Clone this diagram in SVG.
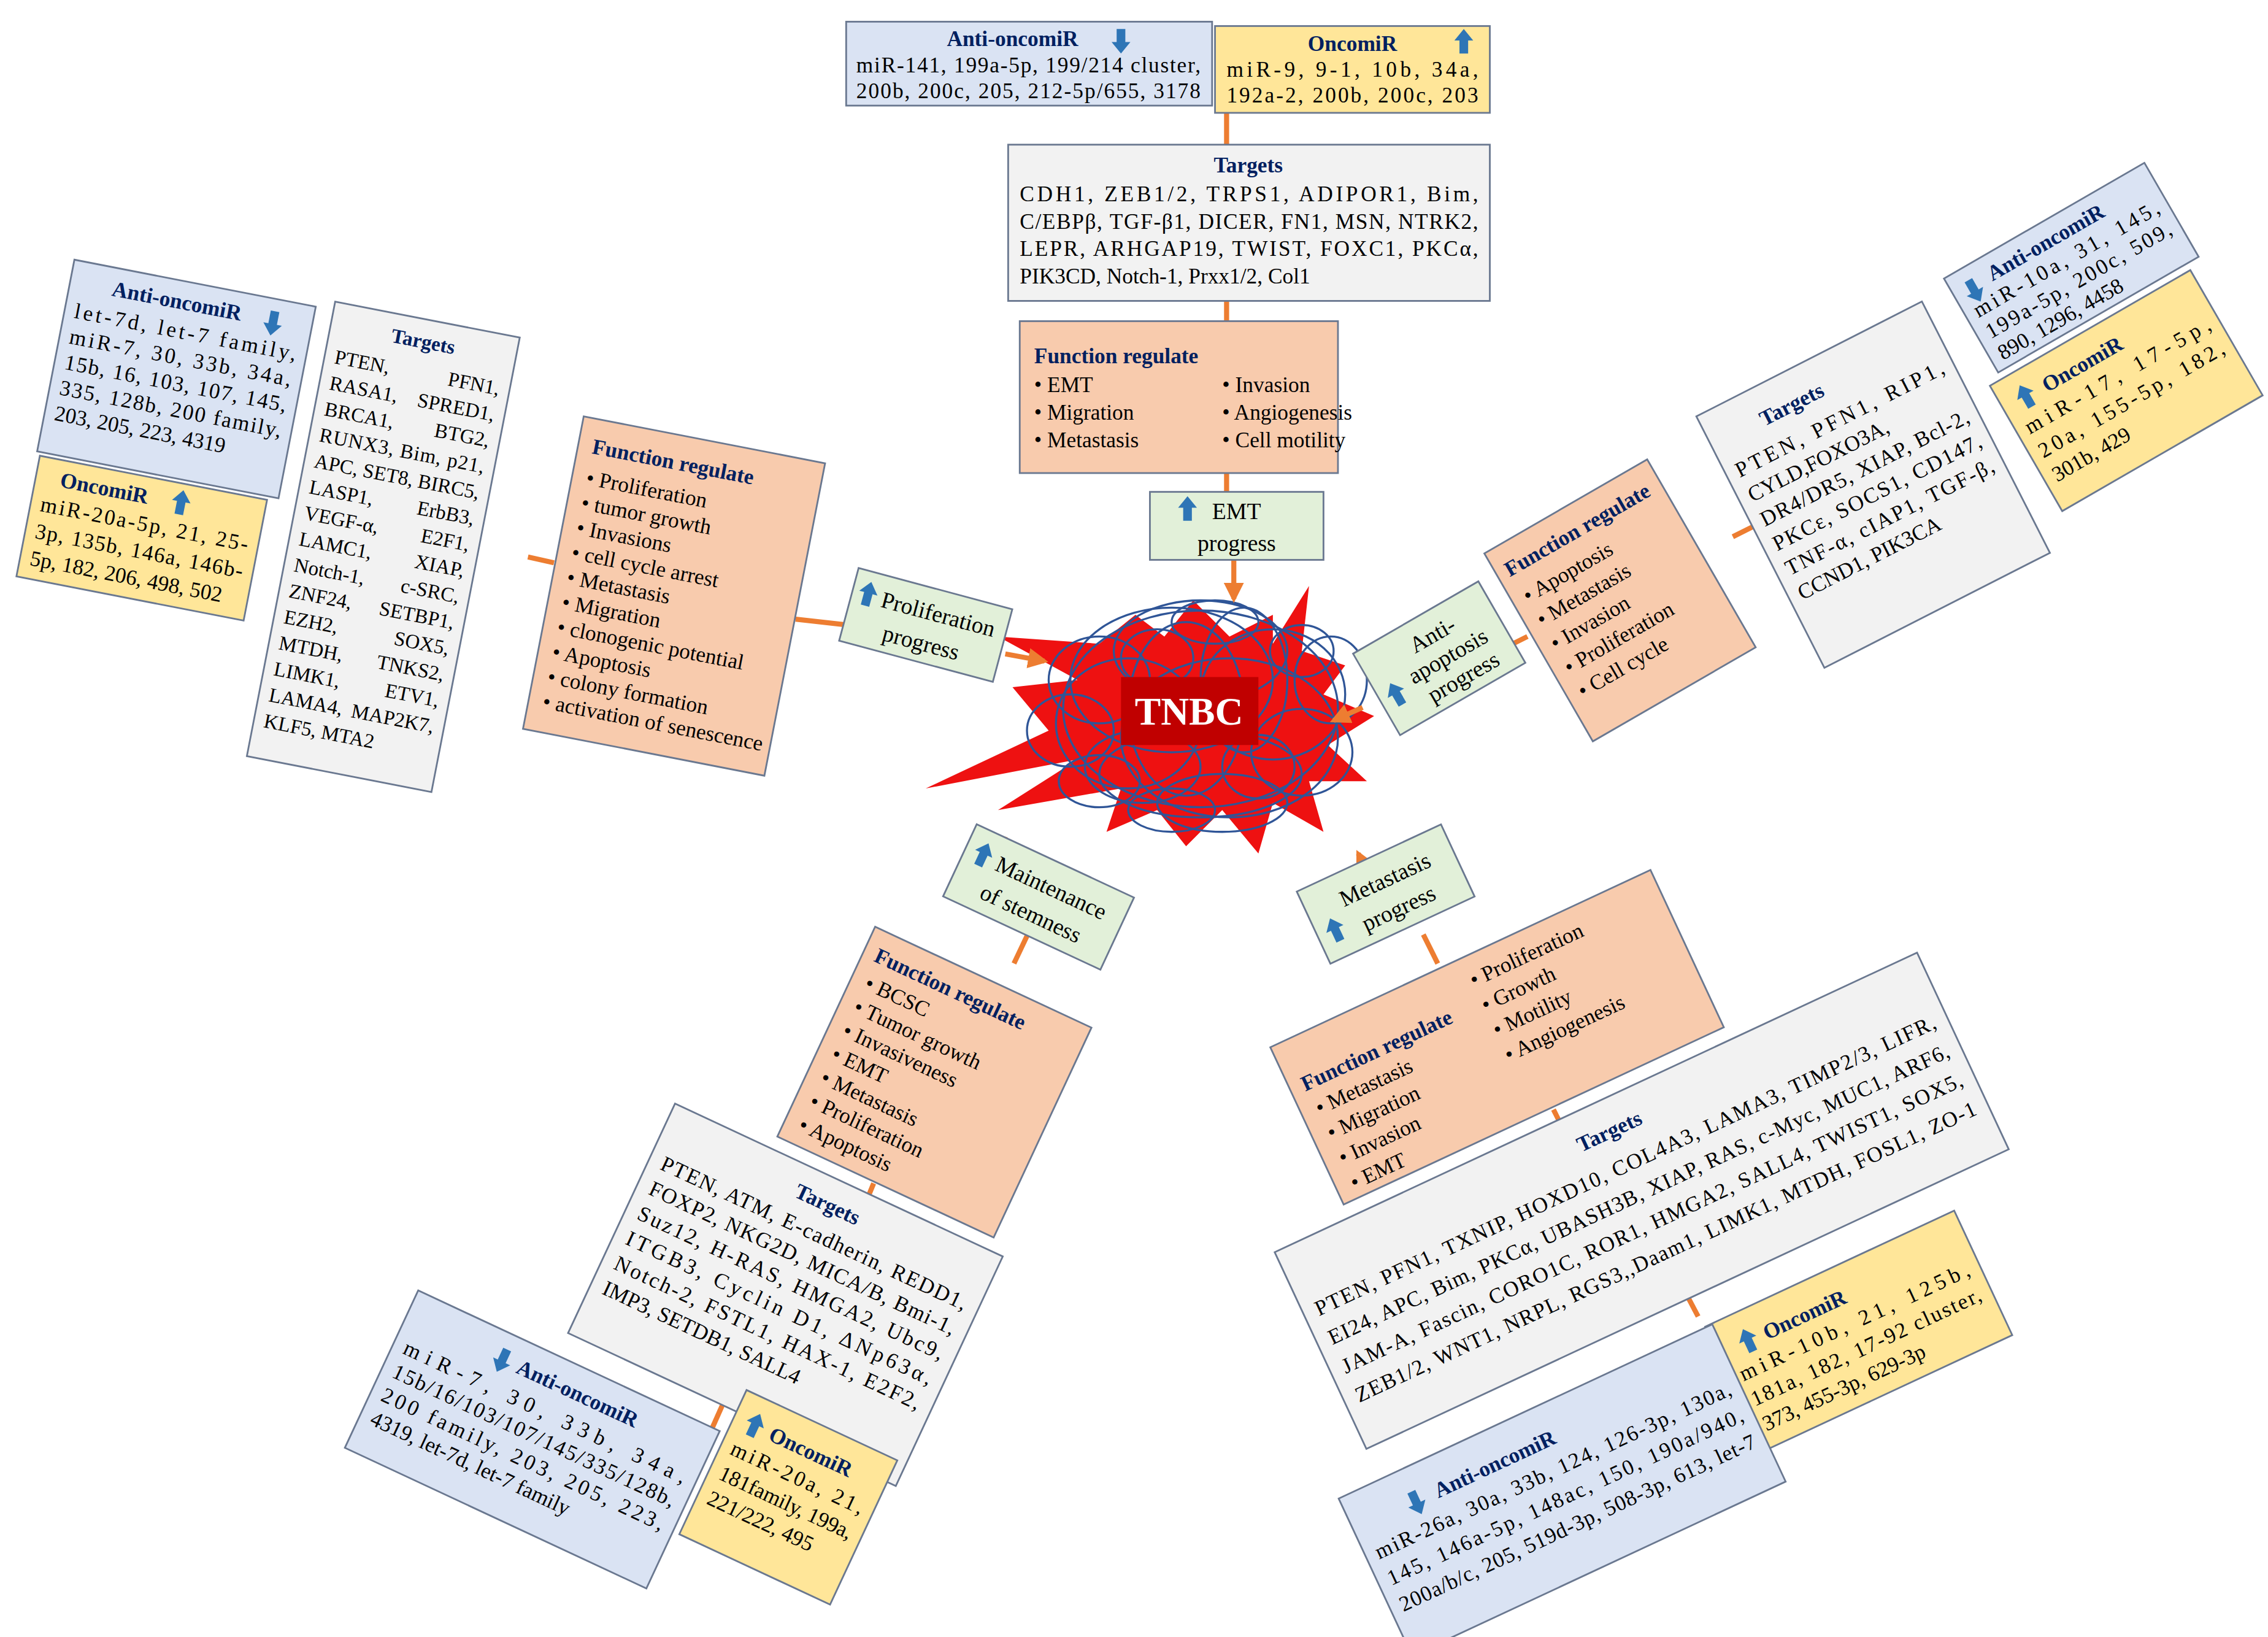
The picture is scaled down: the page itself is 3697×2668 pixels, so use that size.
<svg xmlns="http://www.w3.org/2000/svg" width="3697" height="2668" viewBox="0 0 3697 2668">
<style>
.b{stroke:#6a7890;stroke-width:1.2}
.anti{fill:#dae3f3}.onco{fill:#ffe699}.tgt{fill:#f2f2f2}.fn{fill:#f8cbad}.gr{fill:#e2f0d9}
text{font-family:"Liberation Serif","Times New Roman",serif;font-size:15px;fill:#000}
.h{font-weight:bold;fill:#002060}
.m{text-anchor:middle}.e{text-anchor:end}
.g{font-size:16px}
.sm text{font-size:14px}
.c{stroke:#ed7d31;stroke-width:3.5;fill:none}
.s{fill:none;stroke:#2f5597;stroke-width:1.4}
</style>
<defs>
<path id="up" d="M-3,7 V-2 H-6.5 L0,-10 L6.5,-2 H3 V7 Z" fill="#2e75b6"/>
<path id="dn" d="M-3,-7 V2 H-6.5 L0,10 L6.5,2 H3 V-7 Z" fill="#2e75b6"/>
<marker id="ar" viewBox="0 0 10 10" refX="8" refY="5" markerWidth="4" markerHeight="4" orient="auto"><path d="M0,0 L10,5 L0,10 Z" fill="#ed7d31"/></marker>
</defs>
<rect width="3697" height="2668" fill="#fff"/>
<g transform="scale(2.3578)">
<g id="tnbc">
<polygon fill="#ee1111" points="690,440 760,445 785,425 805,440 825,415 850,440 880,425 880,445 905,405 900,450 930,460 915,480 950,495 918,515 945,540 905,540 915,575 880,555 870,590 845,560 820,585 800,560 765,575 775,545 690,560 745,525 640,545 725,505 700,475 745,470"/>
<g class="s">
<ellipse cx="830" cy="490" rx="95" ry="68"/><ellipse cx="810" cy="470" rx="70" ry="50"/><ellipse cx="850" cy="510" rx="75" ry="55"/>
<ellipse cx="780" cy="500" rx="50" ry="45"/><ellipse cx="880" cy="480" rx="50" ry="45"/><ellipse cx="830" cy="450" rx="60" ry="35"/>
<ellipse cx="830" cy="535" rx="70" ry="30"/><ellipse cx="760" cy="470" rx="35" ry="30"/><ellipse cx="900" cy="520" rx="35" ry="30"/>
<ellipse cx="820" cy="490" rx="40" ry="60"/><ellipse cx="860" cy="470" rx="30" ry="50"/><ellipse cx="790" cy="530" rx="40" ry="25"/>
<ellipse cx="740" cy="505" rx="30" ry="25"/><ellipse cx="920" cy="470" rx="25" ry="30"/><ellipse cx="845" cy="555" rx="45" ry="20"/>
<ellipse cx="800" cy="455" rx="25" ry="20"/><ellipse cx="870" cy="530" rx="25" ry="22"/><ellipse cx="760" cy="540" rx="28" ry="18"/>
<ellipse cx="900" cy="450" rx="22" ry="18"/><ellipse cx="840" cy="430" rx="30" ry="15"/><ellipse cx="810" cy="560" rx="30" ry="15"/>
</g>
<rect x="775" y="468" width="95" height="47" fill="#c00000"/>
<text x="822" y="501" class="m" style="font-size:27px;font-weight:bold;fill:#fff">TNBC</text>
</g>
<g id="connectors">
<line class="c" x1="848" y1="78" x2="848" y2="100"/><line class="c" x1="848" y1="208" x2="848" y2="222"/><line class="c" x1="848" y1="327" x2="848" y2="340"/>
<line class="c" x1="853" y1="387" x2="853" y2="414" marker-end="url(#ar)"/>
<line class="c" x1="365" y1="385" x2="383" y2="389"/><line class="c" x1="550" y1="428" x2="586" y2="432"/>
<line class="c" x1="695" y1="452" x2="722" y2="457" marker-end="url(#ar)"/>
<line class="c" x1="1388" y1="284" x2="1410" y2="273"/><line class="c" x1="1198" y1="371" x2="1214" y2="363"/><line class="c" x1="1038" y1="449" x2="1056" y2="440"/>
<line class="c" x1="942" y1="489" x2="922" y2="498" marker-end="url(#ar)"/>
<line class="c" x1="706" y1="598" x2="684" y2="576" marker-end="url(#ar)"/>
<line class="c" x1="710" y1="647" x2="701" y2="666"/><line class="c" x1="604" y1="818" x2="597" y2="835"/><line class="c" x1="500" y1="970" x2="492" y2="988"/>
<line class="c" x1="948" y1="608" x2="939" y2="590" marker-end="url(#ar)"/>
<line class="c" x1="984" y1="646" x2="994" y2="666"/><line class="c" x1="1074" y1="767" x2="1085" y2="789"/><line class="c" x1="1164" y1="891" x2="1174" y2="910"/>
</g>
<g id="t-anti"><rect class="b anti" x="585" y="15" width="253" height="58"/>
<text x="700" y="32" class="h m">Anti-oncomiR</text><use href="#dn" x="775" y="27"/>
<text x="592" y="50" textLength="238" lengthAdjust="spacing">miR-141, 199a-5p, 199/214 cluster,</text>
<text x="592" y="68" textLength="238" lengthAdjust="spacing">200b, 200c, 205, 212-5p/655, 3178</text></g>
<g id="t-onco"><rect class="b onco" x="840" y="18" width="190" height="60"/>
<text x="935" y="35" class="h m">OncomiR</text><use href="#up" x="1012" y="30"/>
<text x="848" y="53" textLength="174" lengthAdjust="spacing">miR-9, 9-1, 10b, 34a,</text>
<text x="848" y="71" textLength="174" lengthAdjust="spacing">192a-2, 200b, 200c, 203</text></g>
<g id="t-tgt"><rect class="b tgt" x="697" y="100" width="333" height="108"/>
<text x="863" y="119" class="h m">Targets</text>
<text x="705" y="139" textLength="317" lengthAdjust="spacing">CDH1, ZEB1/2, TRPS1, ADIPOR1, Bim,</text>
<text x="705" y="158" textLength="317" lengthAdjust="spacing">C/EBPβ, TGF-β1, DICER, FN1, MSN, NTRK2,</text>
<text x="705" y="177" textLength="317" lengthAdjust="spacing">LEPR, ARHGAP19, TWIST, FOXC1, PKCα,</text>
<text x="705" y="196">PIK3CD, Notch-1, Prxx1/2, Col1</text></g>
<g id="t-fn"><rect class="b fn" x="705" y="222" width="220" height="105"/>
<text x="715" y="251" class="h">Function regulate</text>
<text x="715" y="271">• EMT</text><text x="715" y="290">• Migration</text><text x="715" y="309">• Metastasis</text>
<text x="845" y="271">• Invasion</text><text x="845" y="290">• Angiogenesis</text><text x="845" y="309">• Cell motility</text></g>
<g id="t-green"><rect class="b gr" x="795" y="340" width="120" height="47"/>
<use href="#up" x="821" y="353"/><text x="838" y="359" class="g">EMT</text><text x="855" y="381" class="g m">progress</text></g>
<g id="l-anti" transform="translate(122,262) rotate(11)"><rect class="b anti" x="-85" y="-67.5" width="170" height="135"/>
<text x="-10" y="-48" class="h m">Anti-oncomiR</text><use href="#dn" x="58" y="-52"/>
<text x="-78" y="-28" textLength="156" lengthAdjust="spacing">let-7d, let-7 family,</text>
<text x="-78" y="-10" textLength="156" lengthAdjust="spacing">miR-7, 30, 33b, 34a,</text>
<text x="-78" y="8" textLength="156" lengthAdjust="spacing">15b, 16, 103, 107, 145,</text>
<text x="-78" y="26" textLength="156" lengthAdjust="spacing">335, 128b, 200 family,</text>
<text x="-78" y="44">203, 205, 223, 4319</text></g>
<g id="l-onco" transform="translate(98,372) rotate(11)"><rect class="b onco" x="-80" y="-42.5" width="160" height="85"/>
<text x="-32" y="-24" class="h m">OncomiR</text><use href="#up" x="22" y="-28"/>
<text x="-73" y="-5" textLength="146" lengthAdjust="spacing">miR-20a-5p, 21, 25-</text>
<text x="-73" y="14" textLength="146" lengthAdjust="spacing">3p, 135b, 146a, 146b-</text>
<text x="-73" y="33">5p, 182, 206, 498, 502</text></g>
<g id="l-tgt" class="sm" transform="translate(265,378) rotate(11)"><rect class="b tgt" x="-65" y="-160" width="130" height="320"/>
<text x="0" y="-140" class="h m">Targets</text>
<g transform="translate(0,-118)">
<text x="-58" y="0">PTEN,</text><text x="58" y="0" class="e">PFN1,</text>
<text x="-58" y="18.3">RASA1,</text><text x="58" y="18.3" class="e">SPRED1,</text>
<text x="-58" y="36.6">BRCA1,</text><text x="58" y="36.6" class="e">BTG2,</text>
<text x="-58" y="54.9" textLength="116" lengthAdjust="spacing">RUNX3, Bim, p21,</text>
<text x="-58" y="73.2" textLength="116" lengthAdjust="spacing">APC, SET8, BIRC5,</text>
<text x="-58" y="91.5">LASP1,</text><text x="58" y="91.5" class="e">ErbB3,</text>
<text x="-58" y="109.8">VEGF-α,</text><text x="58" y="109.8" class="e">E2F1,</text>
<text x="-58" y="128.1">LAMC1,</text><text x="58" y="128.1" class="e">XIAP,</text>
<text x="-58" y="146.4">Notch-1,</text><text x="58" y="146.4" class="e">c-SRC,</text>
<text x="-58" y="164.7">ZNF24,</text><text x="58" y="164.7" class="e">SETBP1,</text>
<text x="-58" y="183">EZH2,</text><text x="58" y="183" class="e">SOX5,</text>
<text x="-58" y="201.3">MTDH,</text><text x="58" y="201.3" class="e">TNKS2,</text>
<text x="-58" y="219.6">LIMK1,</text><text x="58" y="219.6" class="e">ETV1,</text>
<text x="-58" y="237.9">LAMA4,</text><text x="58" y="237.9" class="e">MAP2K7,</text>
<text x="-58" y="256.2">KLF5, MTA2</text></g></g>
<g id="l-fn" transform="translate(466,412) rotate(11)"><rect class="b fn" x="-85" y="-110" width="170" height="220"/>
<text x="-75" y="-86" class="h">Function regulate</text>
<text x="-75" y="-64">• Proliferation</text><text x="-75" y="-46.5">• tumor growth</text><text x="-75" y="-29">• Invasions</text>
<text x="-75" y="-11.5">• cell cycle arrest</text><text x="-75" y="6">• Metastasis</text><text x="-75" y="23.5">• Migration</text>
<text x="-75" y="41">• clonogenic potential</text><text x="-75" y="58.5">• Apoptosis</text><text x="-75" y="76">• colony formation</text>
<text x="-75" y="93.5">• activation of senescence</text></g>
<g id="l-green" transform="translate(640,432) rotate(15)"><rect class="b gr" x="-55" y="-26" width="110" height="52"/>
<use href="#up" x="-44" y="-9"/><text x="-34" y="-4" class="g">Proliferation</text><text x="0" y="18" class="g m">progress</text></g>
<g id="r-anti" transform="translate(1432,185) rotate(-30)"><rect class="b anti" x="-80" y="-37.5" width="160" height="75"/>
<use href="#dn" x="-66" y="-21"/><text x="-52" y="-19" class="h">Anti-oncomiR</text>
<text x="-73" y="-2" textLength="146" lengthAdjust="spacing">miR-10a, 31, 145,</text>
<text x="-73" y="15" textLength="146" lengthAdjust="spacing">199a-5p, 200c, 509,</text>
<text x="-73" y="32">890, 1296, 4458</text></g>
<g id="r-onco" transform="translate(1470,270) rotate(-30)"><rect class="b onco" x="-80" y="-50" width="160" height="100"/>
<use href="#up" x="-62" y="-30"/><text x="-48" y="-26" class="h">OncomiR</text>
<text x="-73" y="-7" textLength="146" lengthAdjust="spacing">miR-17, 17-5p,</text>
<text x="-73" y="12" textLength="146" lengthAdjust="spacing">20a, 155-5p, 182,</text>
<text x="-73" y="31">301b, 429</text></g>
<g id="r-tgt" transform="translate(1295,335) rotate(-27)"><rect class="b tgt" x="-87.5" y="-97.5" width="175" height="195"/>
<text x="-25" y="-70" class="h m">Targets</text>
<text x="-80" y="-46" textLength="160" lengthAdjust="spacing">PTEN, PFN1, RIP1,</text>
<text x="-80" y="-27">CYLD,FOXO3A,</text>
<text x="-80" y="-8" textLength="160" lengthAdjust="spacing">DR4/DR5, XIAP, Bcl-2,</text>
<text x="-80" y="11" textLength="160" lengthAdjust="spacing">PKCε, SOCS1, CD147,</text>
<text x="-80" y="30" textLength="160" lengthAdjust="spacing">TNF-α, cIAP1, TGF-β,</text>
<text x="-80" y="49">CCND1, PIK3CA</text></g>
<g id="r-fn" transform="translate(1120,415) rotate(-30)"><rect class="b fn" x="-65" y="-75" width="130" height="150"/>
<text x="-58" y="-52" class="h">Function regulate</text>
<text x="-56" y="-30">• Apoptosis</text><text x="-56" y="-11">• Metastasis</text><text x="-56" y="8">• Invasion</text>
<text x="-56" y="27">• Proliferation</text><text x="-56" y="46">• Cell cycle</text></g>
<g id="r-green" transform="translate(995,455) rotate(-30)"><rect class="b gr" x="-50" y="-32.5" width="100" height="65"/>
<use href="#up" x="-38" y="8"/><text x="4" y="-11" class="g m">Anti-</text><text x="6" y="7" class="g m">apoptosis</text><text x="8" y="25" class="g m">progress</text></g>
<g id="bl-green" transform="translate(718,620) rotate(25)"><rect class="b gr" x="-60" y="-27.5" width="120" height="55"/>
<use href="#up" x="-47" y="-9"/><text x="-36" y="-4" class="g">Maintenance</text><text x="0" y="18" class="g m">of stemness</text></g>
<g id="bl-fn" transform="translate(646,748) rotate(25)"><rect class="b fn" x="-82.5" y="-80" width="165" height="160"/>
<text x="-74" y="-58" class="h">Function regulate</text>
<text x="-72" y="-38">• BCSC</text><text x="-72" y="-20">• Tumor growth</text><text x="-72" y="-2">• Invasiveness</text>
<text x="-72" y="16">• EMT</text><text x="-72" y="34">• Metastasis</text><text x="-72" y="52">• Proliferation</text><text x="-72" y="70">• Apoptosis</text></g>
<g id="bl-tgt" transform="translate(543,895) rotate(25)"><rect class="b tgt" x="-125" y="-87.5" width="250" height="175"/>
<text x="0" y="-64" class="h m">Targets</text>
<text x="-116" y="-42" textLength="232" lengthAdjust="spacing">PTEN, ATM, E-cadherin, REDD1,</text>
<text x="-116" y="-23" textLength="232" lengthAdjust="spacing">FOXP2, NKG2D, MICA/B, Bmi-1,</text>
<text x="-116" y="-4" textLength="232" lengthAdjust="spacing">Suz12, H-RAS, HMGA2, Ubc9,</text>
<text x="-116" y="15" textLength="232" lengthAdjust="spacing">ITGB3, Cyclin D1, ΔNp63α,</text>
<text x="-116" y="34" textLength="232" lengthAdjust="spacing">Notch-2, FSTL1, HAX-1, E2F2,</text>
<text x="-116" y="53">IMP3, SETDB1, SALL4</text></g>
<g id="bl-anti" transform="translate(368,995) rotate(25)"><rect class="b anti" x="-115" y="-60" width="230" height="120"/>
<use href="#dn" x="-42" y="-42"/><text x="15" y="-37" class="h m">Anti-oncomiR</text>
<text x="-107" y="-16" textLength="214" lengthAdjust="spacing">miR-7, 30, 33b, 34a,</text>
<text x="-107" y="2" textLength="214" lengthAdjust="spacing">15b/16/103/107/145/335/128b,</text>
<text x="-107" y="20" textLength="214" lengthAdjust="spacing">200 family, 203, 205, 223,</text>
<text x="-107" y="38">4319, let-7d, let-7 family</text></g>
<g id="bl-onco" transform="translate(545,1035) rotate(25)"><rect class="b onco" x="-57.5" y="-55" width="115" height="110"/>
<use href="#up" x="-42" y="-34"/><text x="-30" y="-30" class="h">OncomiR</text>
<text x="-50" y="-10" textLength="100" lengthAdjust="spacing">miR-20a, 21,</text>
<text x="-50" y="9" textLength="100" lengthAdjust="spacing">181family, 199a,</text>
<text x="-50" y="28">221/222, 495</text></g>
<g id="br-green" transform="translate(958,618) rotate(-25)"><rect class="b gr" x="-55" y="-27.5" width="110" height="55"/>
<use href="#up" x="-42" y="9"/><text x="-30" y="-4" class="g">Metastasis</text><text x="4" y="18" class="g m">progress</text></g>
<g id="br-fn" transform="translate(1035,717) rotate(-25)"><rect class="b fn" x="-145" y="-60" width="290" height="120"/>
<text x="-136" y="-22" class="h">Function regulate</text>
<text x="-134" y="-3">• Metastasis</text><text x="-134" y="16">• Migration</text><text x="-134" y="35">• Invasion</text><text x="-134" y="54">• EMT</text>
<text x="0" y="-38">• Proliferation</text><text x="0" y="-19">• Growth</text><text x="0" y="0">• Motility</text><text x="0" y="19">• Angiogenesis</text></g>
<g id="br-tgt" transform="translate(1135,830) rotate(-25)"><rect class="b tgt" x="-245" y="-75" width="490" height="150"/>
<text x="0" y="-48" class="h m">Targets</text>
<text x="-236" y="-22" textLength="472" lengthAdjust="spacing">PTEN, PFN1, TXNIP, HOXD10, COL4A3, LAMA3, TIMP2/3, LIFR,</text>
<text x="-236" y="0" textLength="472" lengthAdjust="spacing">EI24, APC, Bim, PKCα, UBASH3B, XIAP, RAS, c-Myc, MUC1, ARF6,</text>
<text x="-236" y="22" textLength="472" lengthAdjust="spacing">JAM-A, Fascin, CORO1C, ROR1, HMGA2, SALL4, TWIST1, SOX5,</text>
<text x="-236" y="44" textLength="472" lengthAdjust="spacing">ZEB1/2, WNT1, NRPL, RGS3,,Daam1, LIMK1, MTDH, FOSL1, ZO-1</text></g>
<g id="br-onco" transform="translate(1285,920) rotate(-25)"><rect class="b onco" x="-95" y="-47.5" width="190" height="95"/>
<use href="#up" x="-72" y="-25"/><text x="-60" y="-21" class="h">OncomiR</text>
<text x="-87" y="-2" textLength="174" lengthAdjust="spacing">miR-10b, 21, 125b,</text>
<text x="-87" y="17" textLength="174" lengthAdjust="spacing">181a, 182, 17-92 cluster,</text>
<text x="-87" y="36">373, 455-3p, 629-3p</text></g>
<g id="br-anti" transform="translate(1080,1030) rotate(-25)"><rect class="b anti" x="-142.5" y="-60" width="285" height="120"/>
<use href="#dn" x="-95" y="-36"/><text x="-80" y="-31" class="h">Anti-oncomiR</text>
<text x="-135" y="-10" textLength="270" lengthAdjust="spacing">miR-26a, 30a, 33b, 124, 126-3p, 130a,</text>
<text x="-135" y="10" textLength="270" lengthAdjust="spacing">145, 146a-5p, 148ac, 150, 190a/940,</text>
<text x="-135" y="30" textLength="270" lengthAdjust="spacing">200a/b/c, 205, 519d-3p, 508-3p, 613, let-7</text></g>
</g>
</svg>
